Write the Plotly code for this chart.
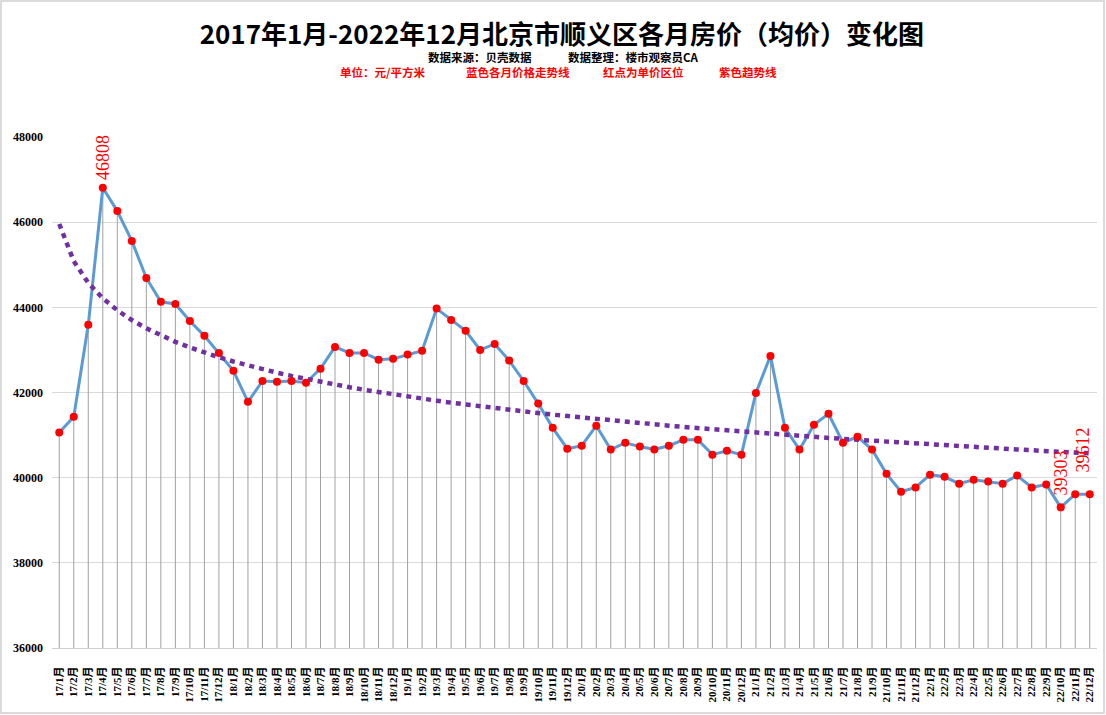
import numpy as np
import plotly.graph_objects as go

months = [f"{y}/{m}月" for y in range(17, 23) for m in range(1, 13)]

prices = [
    41060, 41430, 43590, 46808, 46260, 45560, 44690, 44130, 44080, 43680, 43330, 42930,
    42510, 41780, 42270, 42250, 42270, 42230, 42560, 43070, 42930, 42930, 42770, 42790,
    42890, 42980, 43970, 43700, 43450, 43000, 43140, 42750, 42270, 41740, 41170, 40680,
    40750, 41220, 40660, 40820, 40730, 40660, 40750, 40890, 40890, 40540, 40630, 40540,
    41990, 42860, 41170, 40660, 41240, 41500, 40820, 40960, 40660, 40090, 39670, 39770,
    40070, 40020, 39860, 39950, 39910, 39860, 40050, 39770, 39840, 39303, 39612, 39612,
]

labelled = {"17/4月": 46808, "22/10月": 39303, "22/12月": 39612}

y_ticks = [36000, 38000, 40000, 42000, 44000, 46000, 48000]
y_min, y_max = 36000, 48000

title = "2017年1月-2022年12月北京市顺义区各月房价（均价）变化图"
source_texts = ["数据来源：贝壳数据", "数据整理：楼市观察员CA"]
note_texts = ["单位：元/平方米", "蓝色各月价格走势线", "红点为单价区位", "紫色趋势线"]

# logarithmic trend line (least squares on ln(x)), like the spreadsheet trendline
xs = np.arange(1, len(prices) + 1)
b, a = np.polyfit(np.log(xs), np.array(prices, dtype=float), 1)
trend = (a + b * np.log(xs)).tolist()

W, H = 1106, 715
L, R, T, B = 52, 9, 137, 67
pw, ph = W - L - R, H - T - B

def px_x(p):
    return (p - L) / pw

def px_y(p):
    return (H - B - p) / ph

fig = go.Figure()

# drop lines
fig.add_trace(go.Scatter(
    x=months, y=prices, mode="markers",
    marker=dict(size=1, opacity=0),
    error_y=dict(type="data", symmetric=False,
                 array=[0] * len(prices),
                 arrayminus=[v - y_min for v in prices],
                 color="#A0A0A0", thickness=1, width=0),
    hoverinfo="skip", showlegend=False,
))

# blue price line
fig.add_trace(go.Scatter(
    x=months, y=prices, mode="lines",
    line=dict(color="#5B9BD5", width=3),
    showlegend=False,
))

# purple trend
fig.add_trace(go.Scatter(
    x=months, y=trend, mode="lines",
    line=dict(color="#7030A0", width=4.5, dash="5px,5px"),
    showlegend=False,
))

# red points
fig.add_trace(go.Scatter(
    x=months, y=prices, mode="markers",
    marker=dict(color="#FF0000", size=8),
    showlegend=False,
))

annotations = []
shifts = {"17/4月": (0, 6), "22/10月": (0, 10), "22/12月": (-7, 20)}
for k, v in labelled.items():
    dx, dy = shifts[k]
    annotations.append(dict(
        x=k, y=v, xref="x", yref="y", text=str(v), showarrow=False,
        textangle=-90, xanchor="center", yanchor="bottom",
        xshift=dx, yshift=dy,
        font=dict(family="Liberation Serif", size=18, color="#FF0000"),
    ))

src_x = [480, 633]
for t, xp in zip(source_texts, src_x):
    annotations.append(dict(
        x=px_x(xp), y=px_y(56.5), xref="paper", yref="paper", text=f"<b>{t}</b>",
        showarrow=False, xanchor="center", yanchor="middle",
        font=dict(family="Noto Sans CJK SC", size=11.5, color="#000000"),
    ))

note_x = [382, 518, 643, 748]
for t, xp in zip(note_texts, note_x):
    annotations.append(dict(
        x=px_x(xp), y=px_y(72), xref="paper", yref="paper", text=f"<b>{t}</b>",
        showarrow=False, xanchor="center", yanchor="middle",
        font=dict(family="Noto Sans CJK SC", size=11.5, color="#FF0000"),
    ))

fig.update_layout(
    width=W, height=H,
    margin=dict(l=L, r=R, t=T, b=B, pad=0),
    paper_bgcolor="white", plot_bgcolor="white",
    title=dict(text=f"<b>{title}</b>", x=0.508, xanchor="center",
               y=1 - 35 / H, yanchor="middle",
               font=dict(family="Noto Sans CJK SC", size=26, color="#000000")),
    annotations=annotations,
    shapes=[dict(type="rect", xref="paper", yref="paper",
                 x0=px_x(1), x1=px_x(1104), y0=px_y(713), y1=px_y(1),
                 line=dict(color="#D0D0D0", width=1.5), layer="below")],
    xaxis=dict(
        type="category", categoryorder="array", categoryarray=months,
        range=[-0.5, len(months) - 0.5],
        tickmode="array", tickvals=months, ticktext=[f"<b>{m}</b>" for m in months],
        tickangle=-90, showgrid=False, showline=True, linecolor="#D0D0D0",
        ticks="", ticklabelstandoff=13,
        tickfont=dict(family="Liberation Serif, Noto Sans CJK SC", size=11, color="#000000"),
        zeroline=False,
    ),
    yaxis=dict(
        range=[y_min, y_max], tickmode="array", tickvals=y_ticks,
        ticktext=[f"<b>{v}</b>" for v in y_ticks],
        showgrid=True, gridcolor="#D9D9D9", gridwidth=1,
        showline=False, zeroline=False, ticks="", ticklabelstandoff=8,
        tickfont=dict(family="Liberation Serif", size=12, color="#000000"),
    ),
    hovermode=False,
)

fig.write_html("out.html")
